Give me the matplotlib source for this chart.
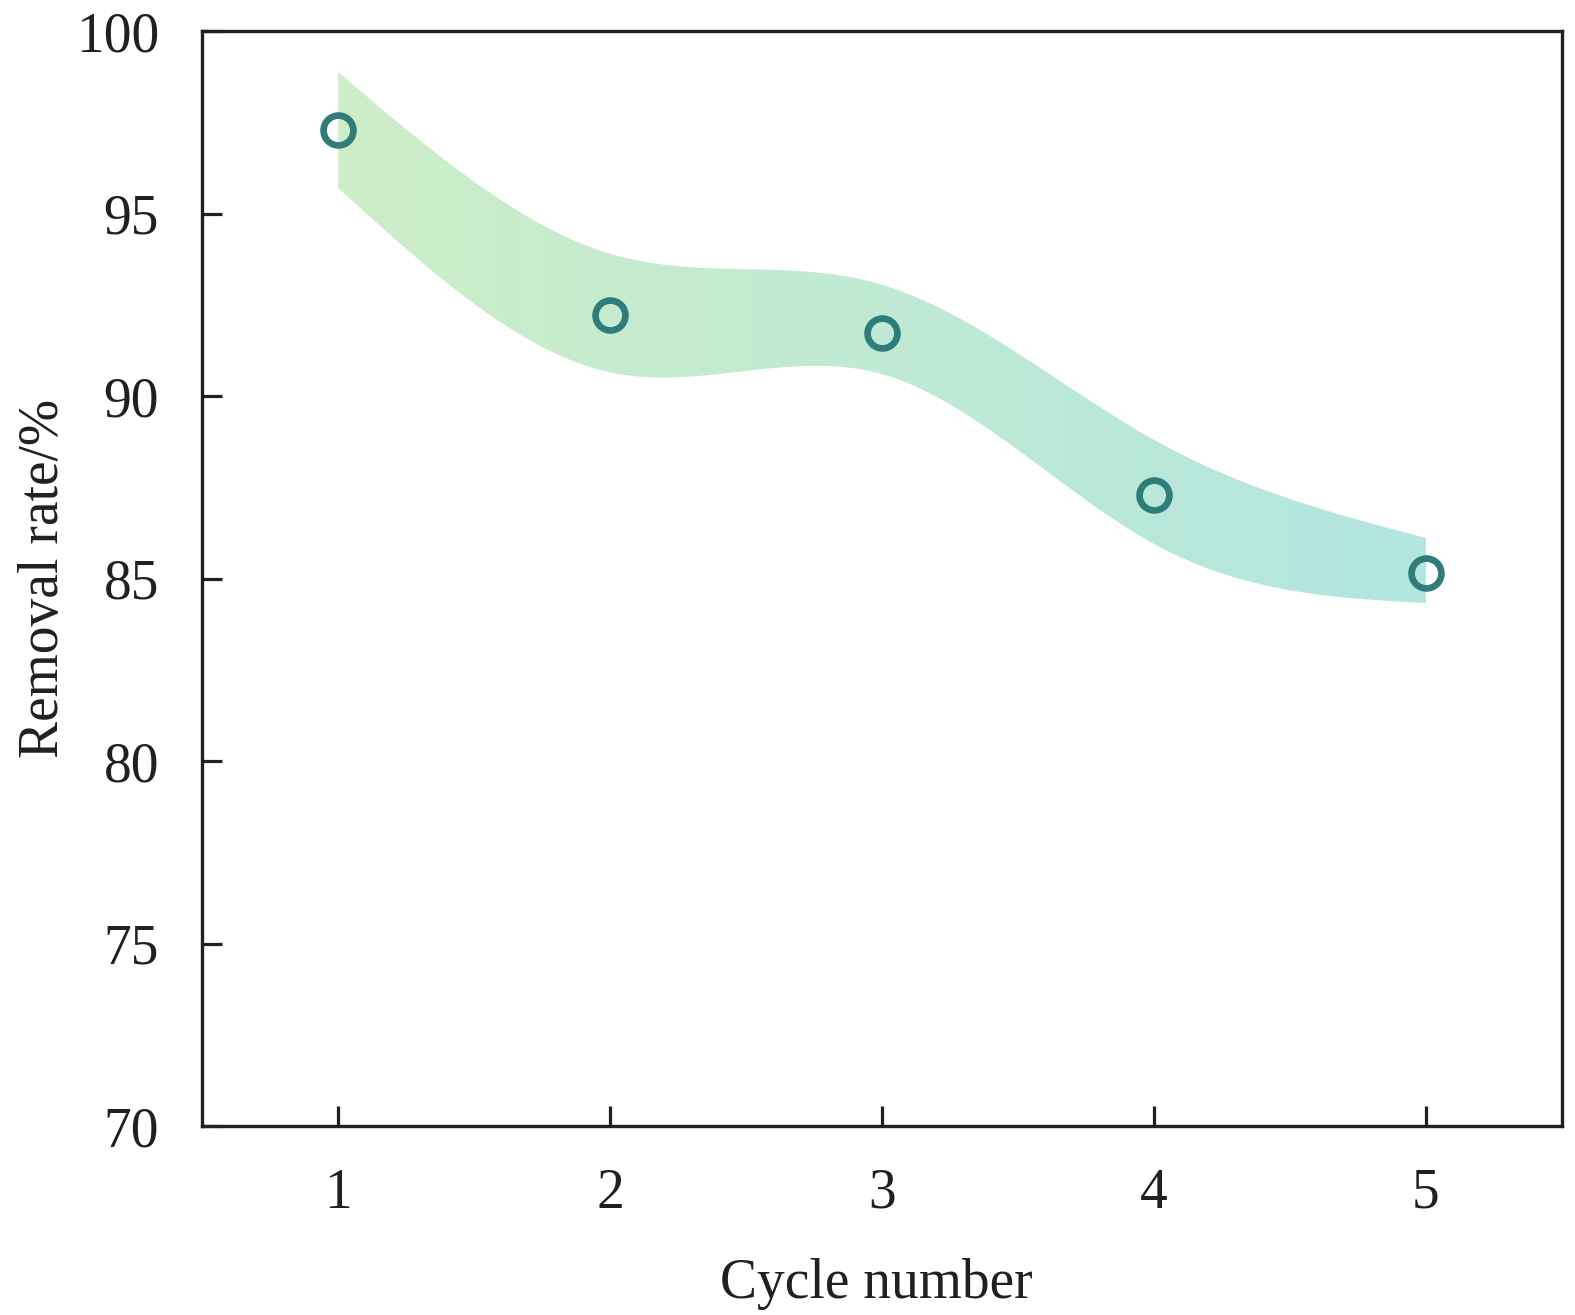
import numpy as np
import matplotlib
matplotlib.use("Agg")
import matplotlib.pyplot as plt
from matplotlib.colors import LinearSegmentedColormap

# ---- data ----
cycles = [1, 2, 3, 4, 5]
removal_rate = [97.29, 92.22, 91.73, 87.29, 85.15]
band_upper = [98.88, 93.90, 93.05, 88.80, 86.11]
band_lower = [95.70, 90.65, 90.60, 85.95, 84.33]
x_ticks = [1, 2, 3, 4, 5]
y_ticks = [70, 75, 80, 85, 90, 95, 100]


def natural_spline(x, y, xs):
    x = np.asarray(x, float); y = np.asarray(y, float)
    n = len(x)
    h = np.diff(x)
    A = np.zeros((n, n)); b = np.zeros(n)
    A[0, 0] = 1; A[-1, -1] = 1
    for i in range(1, n - 1):
        A[i, i - 1] = h[i - 1]
        A[i, i] = 2 * (h[i - 1] + h[i])
        A[i, i + 1] = h[i]
        b[i] = 3 * ((y[i + 1] - y[i]) / h[i] - (y[i] - y[i - 1]) / h[i - 1])
    c = np.linalg.solve(A, b)
    bb = np.zeros(n - 1); d = np.zeros(n - 1)
    for i in range(n - 1):
        bb[i] = (y[i + 1] - y[i]) / h[i] - h[i] * (2 * c[i] + c[i + 1]) / 3
        d[i] = (c[i + 1] - c[i]) / (3 * h[i])
    idx = np.clip(np.searchsorted(x, xs) - 1, 0, n - 2)
    dx = xs - x[idx]
    return y[idx] + bb[idx] * dx + c[idx] * dx ** 2 + d[idx] * dx ** 3


plt.rcParams['font.family'] = ['Liberation Serif', 'DejaVu Serif']
plt.rcParams['mathtext.fontset'] = 'stix'

fig = plt.figure(figsize=(15.75, 13.15), dpi=100)
ax = fig.add_axes([0.1283, 0.1437, 0.8634, 0.8327])

xs = np.linspace(cycles[0], cycles[-1], 400)
up = natural_spline(cycles, band_upper, xs)
lo = natural_spline(cycles, band_lower, xs)

poly = ax.fill_between(xs, lo, up, facecolor='none', edgecolor='none')
cmap = LinearSegmentedColormap.from_list('g', ['#cdeec8', '#b2e6e0'])
grad = np.linspace(0, 1, 256).reshape(1, -1)
im = ax.imshow(grad, cmap=cmap, aspect='auto',
               extent=[cycles[0], cycles[-1], min(lo) - 1, max(up) + 1],
               origin='lower', zorder=1, interpolation='bilinear')
path = poly.get_paths()[0]
im.set_clip_path(path, transform=ax.transData)

ax.plot(cycles, removal_rate, linestyle='none', marker='o', markersize=21.5,
        markerfacecolor='none', markeredgecolor='#2f7c7b', markeredgewidth=4.8,
        zorder=3)

ax.set_xlim(0.5, 5.5)
ax.set_ylim(70, 100)
ax.set_xticks(x_ticks)
ax.set_yticks(y_ticks)
ax.tick_params(direction='in', length=14.5, width=2.3, labelsize=40,
               colors='#231f20', top=False, right=False)
ax.tick_params(axis='x', pad=30)
ax.tick_params(axis='y', pad=31)
for s in ax.spines.values():
    s.set_linewidth(2.4)
    s.set_color('#231f20')

ax.set_xlabel('Cycle number', fontsize=40, color='#231f20')
ax.set_ylabel('Removal rate/%', fontsize=40, color='#231f20')
ax.xaxis.set_label_coords(0.4955, -0.144)
ax.xaxis.label.set_va('center')
ax.yaxis.set_label_coords(-0.116, 0.5)
ax.yaxis.label.set_va('center')

fig.savefig('out.png', dpi=100)
